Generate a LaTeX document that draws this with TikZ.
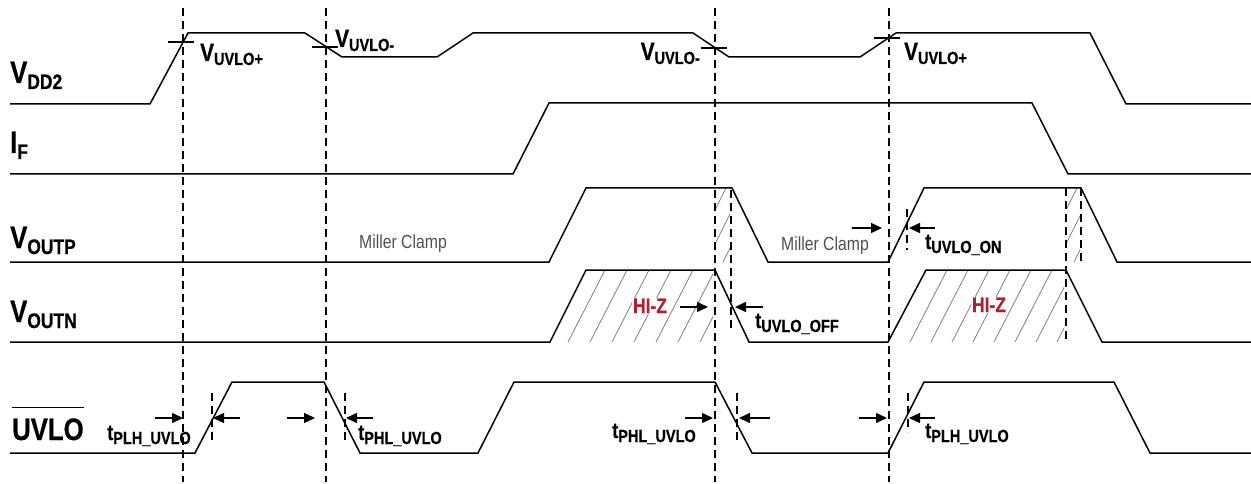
\documentclass[tikz,border=0pt]{standalone}
\usepackage{fontspec}
\setmainfont{Liberation Sans}
\newfontfamily\narrowsf[FakeStretch=0.83, BoldFeatures={FakeBold=0.6}]{Liberation Sans}
\usetikzlibrary{arrows.meta}

\definecolor{hizred}{RGB}{176,32,52}
\definecolor{clampgray}{RGB}{80,80,80}

% big signal name, small index
\newcommand{\siglbl}[2]{{\fontsize{31}{31}\selectfont #1}\raisebox{-6pt}{\fontsize{21}{21}\selectfont #2}}
% threshold / delay labels
\newcommand{\thrlbl}[2]{{\fontsize{25}{25}\selectfont #1}\raisebox{-4pt}{\fontsize{17.5}{17.5}\selectfont #2}}
\newcommand{\dlylbl}[2]{{\fontsize{22}{22}\selectfont #1}\raisebox{-4pt}{\fontsize{17.5}{17.5}\selectfont #2}}

\tikzset{
  wave/.style={line width=1.5pt, line join=miter},
  guide/.style={line width=1.3pt, dash pattern=on 8pt off 5pt},
  hatch/.style={gray, line width=0.8pt},
  delay/.style={line width=1.5pt, -{Triangle[length=11pt,width=10pt]}},
  txt/.style={inner sep=0pt, anchor=base west, font=\narrowsf\bfseries},
  clamp/.style={inner sep=0pt, anchor=base, text=clampgray, font=\narrowsf\fontsize{19}{19}\selectfont},
  hiz/.style={inner sep=1pt, anchor=base, fill=white, text=hizred, font=\narrowsf\bfseries\fontsize{21}{21}\selectfont},
}

\begin{document}
\begin{tikzpicture}[x=1pt,y=-1pt]
\useasboundingbox (0,0) rectangle (1251,484);

% hatched HI-Z areas
\begin{scope}
  \clip (556,270) rectangle (713,342);
  \foreach \x in {568,590,...,700}
    \draw[hatch] (\x,342) -- (\x+37,270);
\end{scope}
\begin{scope}
  \clip (895,270) rectangle (1064,342);
  \foreach \x in {910,931,...,1057}
    \draw[hatch] (\x,342) -- (\x+37,270);
\end{scope}
\begin{scope}
  \clip (716,188) rectangle (730,262);
  \foreach \x in {672,689,...,723}
    \draw[hatch] (\x,262) -- (\x+37,188);
\end{scope}
\begin{scope}
  \clip (1067,188) rectangle (1080,262);
  \foreach \x in {1040,1057,1074}
    \draw[hatch] (\x,262) -- (\x+37,188);
\end{scope}

% waveforms
\draw[wave] (10,104) -- (150,104) -- (188,33) -- (305,33) -- (342,57) -- (437,57) -- (473,33) -- (693,33) -- (729,57) -- (860,57) -- (896,33) -- (1090,33) -- (1126,104) -- (1251,104);
\draw[wave] (10,174) -- (513,174) -- (549,103) -- (1032,103) -- (1068,174) -- (1251,174);
\draw[wave] (10,262) -- (549,262) -- (586,188) -- (732,188) -- (768,262) -- (888,262) -- (924,188) -- (1081,188) -- (1117,262) -- (1251,262);
\draw[wave] (10,342) -- (550,342) -- (586,270) -- (715,270) -- (749,342) -- (888,342) -- (926,270) -- (1066,270) -- (1102,342) -- (1251,342);
\draw[wave] (10,453) -- (195,453) -- (232,382) -- (324,382) -- (360,453) -- (478,453) -- (514,382) -- (715,382) -- (752,453) -- (888,453) -- (924,382) -- (1114,382) -- (1150,453) -- (1251,453);

% threshold crossings
\foreach \x/\y in {181/42, 325/47, 714/48, 887/38}
  \draw[line width=1.3pt] (\x-13,\y) -- (\x+13,\y);

% guides
\foreach \x in {183,326,715,889}
  \draw[guide] (\x,8) -- (\x,482);
\foreach \x/\a/\b in {212/393/442, 345/393/442, 737/393/442, 908/393/432, 907/209/250, 731/190/332, 1066/188/342, 1081/188/262}
  \draw[guide] (\x,\a) -- (\x,\b);

% delay arrows
\foreach \a/\b/\y in {852/882/228, 935/909/228, 680/708/307, 763/735/307, 155/183/418, 240/213/418, 287/315/418, 373/346/418, 685/713/418, 770/739/418, 859/887/418, 935/909/418}
  \draw[delay] (\a,\y) -- (\b,\y);

% signal names
\node[txt] (vdd) at (10,83) {\siglbl{V}{DD2}};
\node[txt] (iff) at (10,153) {\siglbl{I}{F}};
\node[txt] (voutp) at (10,248) {\siglbl{V}{OUTP}};
\node[txt] (voutn) at (10,322) {\siglbl{V}{OUTN}};
\node[txt] (uvlo) at (12,440) {\fontsize{31}{31}\selectfont UVLO};
\draw[line width=1.3pt] ([yshift=11pt]uvlo.north west) -- ([yshift=11pt]uvlo.north east);

% thresholds
\node[txt] (thra) at (200,61) {\thrlbl{V}{UVLO+}};
\node[txt] (thrb) at (335,47) {\thrlbl{V}{UVLO-}};
\node[txt, anchor=base east] (thrc) at (700,60) {\thrlbl{V}{UVLO-}};
\node[txt] (thrd) at (904,60) {\thrlbl{V}{UVLO+}};

% delays
\node[txt] (plha) at (107,440) {\dlylbl{t}{PLH\_UVLO}};
\node[txt] (phla) at (358,440) {\dlylbl{t}{PHL\_UVLO}};
\node[txt] (phlb) at (612,438) {\dlylbl{t}{PHL\_UVLO}};
\node[txt] (plhb) at (925,438) {\dlylbl{t}{PLH\_UVLO}};
\node[txt] (uvon) at (925,249) {\dlylbl{t}{UVLO\_ON}};
\node[txt] (uvoff) at (755,328) {\dlylbl{t}{UVLO\_OFF}};

% states
\node[clamp] (mca) at (403,248) {Miller Clamp};
\node[clamp] (mcb) at (825,250) {Miller Clamp};
\node[hiz] (hza) at (650,313) {HI-Z};
\node[hiz] (hzb) at (989,312) {HI-Z};
\end{tikzpicture}
\end{document}
